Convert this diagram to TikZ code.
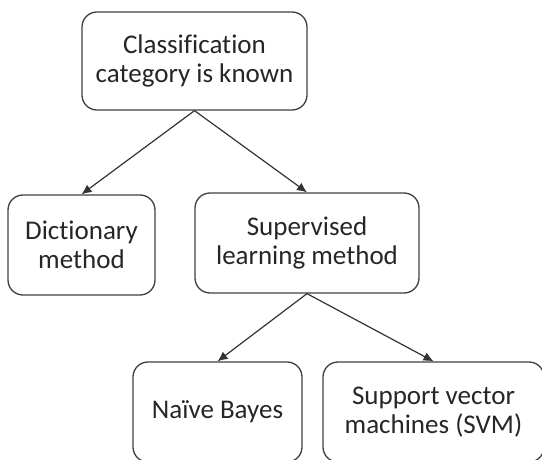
\documentclass[tikz,border=0pt]{standalone}
\usepackage{fontspec}
\setmainfont[Ligatures=CommonOff]{Carlito}
\usetikzlibrary{arrows.meta}

\tikzset{
  box/.style={draw=black!75, line width=1.3pt, rounded corners=15pt,
    align=center, inner sep=0pt, text=black!85,
    font=\fontsize{27}{29}\selectfont},
  link/.style={-{Latex[length=10pt,width=9pt]}, draw=black!80, line width=1.2pt},
}

\begin{document}
\begin{tikzpicture}[x=1pt,y=-1pt]%
        \useasboundingbox (0,0) rectangle (542,460);
        \node[box, minimum width=225pt, minimum height=98pt] (known) at (194.5,61) {Classification\\category is known};
        \node[box, minimum width=147pt, minimum height=100pt] (dict) at (81.5,245) {Dictionary\\method};
        \node[box, minimum width=224pt, minimum height=100pt] (superv) at (307,243) {Supervised\\learning method};
        \node[box, minimum width=169pt, minimum height=100pt] (bayes) at (217.5,412) {Naïve Bayes};
        \node[box, minimum width=221pt, minimum height=100pt] (svm) at (433.5,412) {Support vector\\machines (SVM)};
        \draw[link] (known.south) -- (dict.north);
        \draw[link] (known.south) -- (superv.north);
        \draw[link] (superv.south) -- (bayes.north);
        \draw[link] (superv.south) -- (svm.north);
    \end{tikzpicture}
\end{document}
